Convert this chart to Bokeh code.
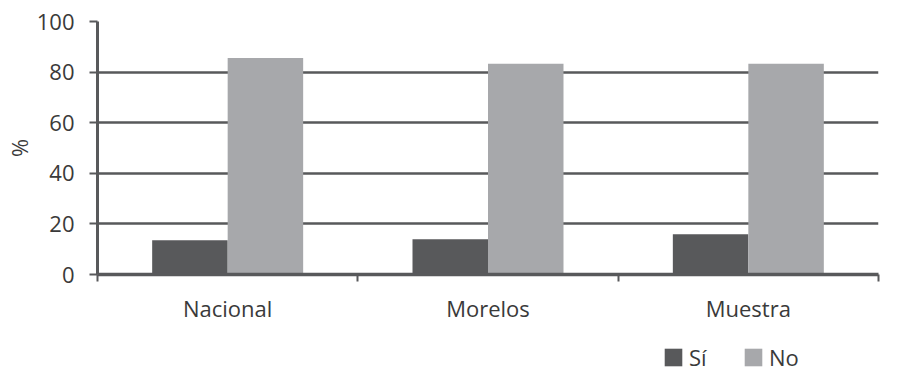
from bokeh.plotting import figure
from bokeh.layouts import column
from bokeh.models import Range1d, FixedTicker, Legend, LegendItem, ColumnDataSource
from bokeh.embed import file_html
from bokeh.resources import INLINE

# Survey answers (%) by scope
categories = ["Nacional", "Morelos", "Muestra"]
si_values = [13.5, 13.9, 15.9]
no_values = [85.6, 83.3, 83.3]
series = ["Sí", "No"]
y_ticks = [0, 20, 40, 60, 80, 100]

DARK = "#58595b"
LIGHT = "#a7a8ab"
TEXT = "#3a3a3a"
FONT = "Open Sans"
FONT_SIZE = "22px"

bar_w = 0.29
centers = [i + 0.5 for i in range(len(categories))]

src = ColumnDataSource(dict(
    cat=categories,
    x_si=[c - bar_w / 2 for c in centers],
    x_no=[c + bar_w / 2 for c in centers],
    si=si_values,
    no=no_values,
))

p = figure(width=897, height=330, output_backend="svg", toolbar_location=None,
           x_range=Range1d(0, len(categories)), y_range=Range1d(0, 100),
           min_border_left=96, min_border_right=19, min_border_top=21,
           min_border_bottom=56)
p.outline_line_color = None
p.background_fill_color = "white"

p.vbar(x="x_si", top="si", bottom=0, width=bar_w, source=src,
       fill_color=DARK, line_color=None)
p.vbar(x="x_no", top="no", bottom=0, width=bar_w, source=src,
       fill_color=LIGHT, line_color=None)

# horizontal gridlines behind the bars
p.xgrid.grid_line_color = None
p.ygrid.ticker = FixedTicker(ticks=y_ticks)
p.ygrid.grid_line_color = DARK
p.ygrid.grid_line_width = 2.6

# y axis
ya = p.yaxis[0]
ya.ticker = FixedTicker(ticks=y_ticks)
ya.axis_line_color = DARK
ya.axis_line_width = 3
ya.major_tick_line_color = DARK
ya.major_tick_line_width = 2
ya.major_tick_out = 8
ya.major_tick_in = 0
ya.minor_tick_line_color = None
ya.major_label_standoff = 15
ya.major_label_text_font = FONT
ya.major_label_text_font_size = FONT_SIZE
ya.major_label_text_color = TEXT
ya.axis_label = "%"
ya.axis_label_text_font = FONT
ya.axis_label_text_font_size = FONT_SIZE
ya.axis_label_text_font_style = "normal"
ya.axis_label_text_color = TEXT
ya.axis_label_standoff = 0

# x axis: labels at group centres, small ticks at group boundaries
xa = p.xaxis[0]
xa.ticker = FixedTicker(ticks=centers, minor_ticks=list(range(len(categories) + 1)))
xa.major_label_overrides = {c: name for c, name in zip(centers, categories)}
xa.axis_line_color = DARK
xa.axis_line_width = 3.5
xa.major_tick_line_color = None
xa.major_tick_out = 0
xa.major_tick_in = 0
xa.minor_tick_line_color = DARK
xa.minor_tick_line_width = 2
xa.minor_tick_out = 7
xa.minor_tick_in = 0
xa.major_label_standoff = 11
xa.major_label_text_font = FONT
xa.major_label_text_font_size = FONT_SIZE
xa.major_label_text_color = TEXT

# legend strip under the chart (its frame lines up with the chart's frame)
leg = figure(width=897, height=42, output_backend="svg", toolbar_location=None,
             x_range=Range1d(0, 1), y_range=Range1d(0, 1),
             min_border=0, outline_line_color=None)
leg.axis.visible = False
leg.grid.visible = False
leg.background_fill_color = "white"
leg.border_fill_color = "white"
# zero-height swatch renderers: only their legend entries show
sw_si = leg.vbar(x=[0.5], top=[0], bottom=[0], width=0.1, fill_color=DARK, line_color=None)
sw_no = leg.vbar(x=[0.5], top=[0], bottom=[0], width=0.1, fill_color=LIGHT, line_color=None)

legend = Legend(items=[LegendItem(label=series[0], renderers=[sw_si]),
                       LegendItem(label=series[1], renderers=[sw_no])],
                orientation="horizontal", location=(565, 0),
                glyph_width=22, glyph_height=22, label_standoff=5, spacing=33,
                padding=0, margin=0, border_line_color=None,
                background_fill_alpha=0,
                label_text_font=FONT, label_text_font_size=FONT_SIZE,
                label_text_color=TEXT)
leg.add_layout(legend, "center")

layout = column(p, leg, spacing=0)
open("out.html", "w").write(file_html(layout, INLINE))
